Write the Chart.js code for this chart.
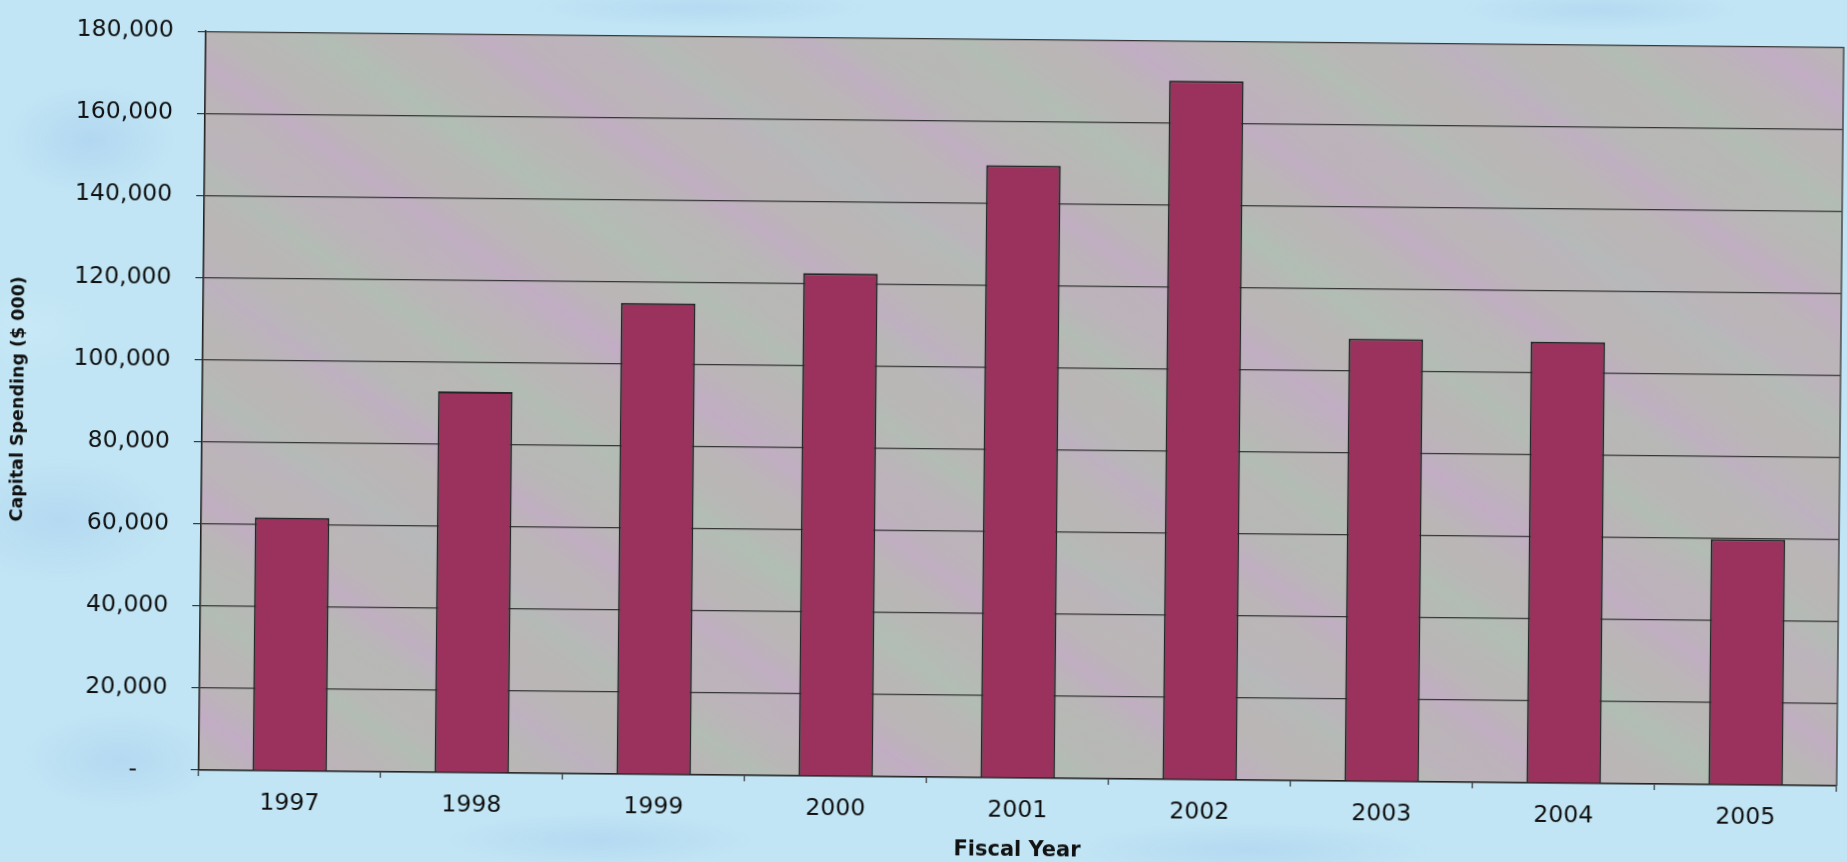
<!DOCTYPE html>
<html>
<head>
<meta charset="utf-8">
<title>Capital Spending by Fiscal Year</title>
<script src="https://cdn.jsdelivr.net/npm/chart.js@4.4.1/dist/chart.umd.min.js"></script>
<style>
  html, body {
    margin: 0;
    padding: 0;
    width: 1847px;
    height: 862px;
    overflow: hidden;
  }
  body {
    background-color: #c1e5f4;
    background-image:
      radial-gradient(ellipse 120px 80px at 90px 140px, rgba(150,190,235,0.35), rgba(150,190,235,0) 70%),
      radial-gradient(ellipse 160px 90px at 60px 520px, rgba(150,190,235,0.30), rgba(150,190,235,0) 70%),
      radial-gradient(ellipse 140px 70px at 120px 760px, rgba(150,190,235,0.30), rgba(150,190,235,0) 70%),
      radial-gradient(ellipse 220px 40px at 600px 840px, rgba(150,190,235,0.30), rgba(150,190,235,0) 70%),
      radial-gradient(ellipse 260px 40px at 1250px 850px, rgba(150,190,235,0.30), rgba(150,190,235,0) 70%),
      radial-gradient(ellipse 200px 30px at 1600px 10px, rgba(150,190,235,0.30), rgba(150,190,235,0) 70%),
      radial-gradient(ellipse 240px 28px at 700px 8px, rgba(150,190,235,0.28), rgba(150,190,235,0) 70%),
      radial-gradient(ellipse 90px 60px at 30px 330px, rgba(205,235,248,0.6), rgba(205,235,248,0) 70%);
  }
  #wrap {
    position: absolute;
    left: 0;
    top: 0;
    width: 1847px;
    height: 862px;
    transform: rotate(0.55deg);
    transform-origin: 923px 431px;
  }
</style>
</head>
<body>
<div id="wrap"><canvas id="chart" width="1847" height="862"></canvas></div>
<script>
// Fiscal years on the category axis
const years = ['1997', '1998', '1999', '2000', '2001', '2002', '2003', '2004', '2005'];

// Capital spending, in thousands of dollars
const capitalSpending = [61700, 92800, 114800, 122500, 149200, 170200, 107800, 107500, 59800];

// Value-axis labels, accounting style (zero shown as a dash)
const yTickLabels = ['-    ', '20,000', '40,000', '60,000', '80,000', '100,000', '120,000', '140,000', '160,000', '180,000'];

const axisFont = { family: 'DejaVu Sans', size: 23.5 };
const textColor = '#111111';

// Soft diagonal tint bands laid over the grey plot area
function addBands(ctx, a, angleDeg, period, colA, colB) {
  const cx = (a.left + a.right) / 2;
  const cy = (a.top + a.bottom) / 2;
  const R = Math.hypot(a.width, a.height) / 2;
  const ang = angleDeg * Math.PI / 180;
  const nx = -Math.sin(ang), ny = Math.cos(ang);
  const g = ctx.createLinearGradient(cx - nx * R, cy - ny * R, cx + nx * R, cy + ny * R);
  const n = Math.ceil((2 * R) / period);
  const clear = 'rgba(185,181,182,0)';
  for (let i = 0; i < n; i++) {
    const s = 1 / n;
    const b = i * s;
    g.addColorStop(b, colA);
    g.addColorStop(b + s * 0.25, clear);
    g.addColorStop(b + s * 0.5, colB);
    g.addColorStop(b + s * 0.75, clear);
  }
  g.addColorStop(1, colA);
  ctx.fillStyle = g;
  ctx.fillRect(a.left, a.top, a.width, a.height);
}

// Grey plot area background and the right-hand frame line
const plotBackdrop = {
  id: 'plotBackdrop',
  beforeDraw(chart) {
    const { ctx, chartArea: a } = chart;
    ctx.save();
    ctx.fillStyle = '#bab6b6';
    ctx.fillRect(a.left, a.top, a.width, a.height);
    addBands(ctx, a, 34, 190, 'rgba(204,160,214,0.38)', 'rgba(160,204,176,0.30)');
    addBands(ctx, a, 26, 290, 'rgba(200,165,212,0.18)', 'rgba(165,200,178,0.16)');
    ctx.restore();
  },
  afterDraw(chart) {
    const { ctx, chartArea: a } = chart;
    ctx.save();
    ctx.strokeStyle = '#4a4a4a';
    ctx.lineWidth = 1.5;
    ctx.beginPath();
    ctx.moveTo(a.right, a.top);
    ctx.lineTo(a.right, a.bottom);
    ctx.stroke();
    ctx.restore();
  }
};

new Chart(document.getElementById('chart'), {
  type: 'bar',
  data: {
    labels: years,
    datasets: [{
      label: 'Capital Spending ($ 000)',
      data: capitalSpending,
      backgroundColor: '#9b325d',
      borderColor: '#232826',
      borderWidth: 2,
      borderSkipped: 'start',
      categoryPercentage: 1.0,
      barPercentage: 0.41
    }]
  },
  options: {
    responsive: false,
    animation: false,
    devicePixelRatio: 1,
    layout: { padding: { top: 28, right: 7, bottom: 0, left: 0 } },
    plugins: {
      legend: { display: false },
      tooltip: { enabled: false }
    },
    scales: {
      x: {
        afterFit(scale) { scale.height = 85; },
        grid: {
          drawOnChartArea: false,
          drawTicks: true,
          tickLength: 6,
          offset: true,
          color: '#333333',
          lineWidth: 1.2
        },
        border: { display: true, color: '#222222', width: 1.6 },
        ticks: {
          font: axisFont,
          color: textColor,
          padding: 12.5,
          maxRotation: 0,
          autoSkip: false
        },
        title: {
          display: true,
          text: 'Fiscal Year',
          color: textColor,
          font: { family: 'DejaVu Sans', size: 21, weight: 'bold' },
          padding: { top: 0, bottom: 0 }
        }
      },
      y: {
        min: 0,
        max: 180000,
        afterFit(scale) { scale.width = 202; },
        grid: {
          drawOnChartArea: true,
          drawTicks: true,
          tickLength: 8,
          color: '#363636',
          lineWidth: 1.2
        },
        border: { display: true, color: '#222222', width: 1.6 },
        ticks: {
          stepSize: 20000,
          font: axisFont,
          color: textColor,
          padding: 24,
          callback: (value, index) => yTickLabels[index]
        },
        title: {
          display: true,
          text: 'Capital Spending ($ 000)',
          color: textColor,
          font: { family: 'DejaVu Sans', size: 17.5, weight: 'bold' },
          padding: { top: 7.5, bottom: 0 }
        }
      }
    }
  },
  plugins: [plotBackdrop]
});
</script>
</body>
</html>
